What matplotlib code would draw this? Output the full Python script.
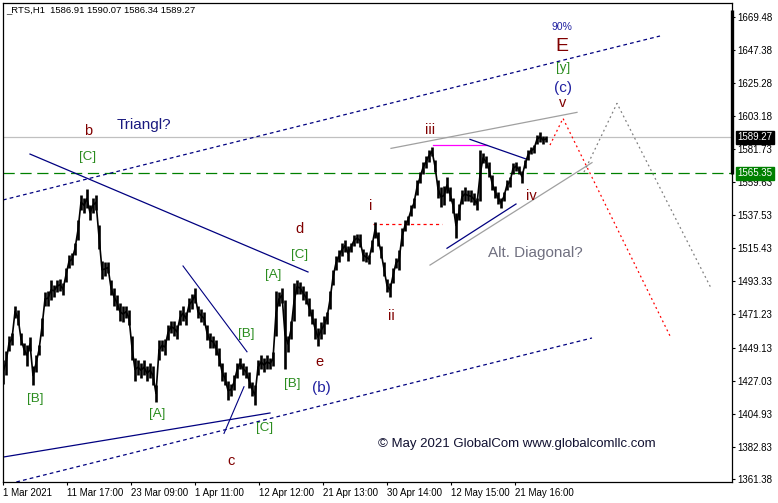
import numpy as np
import matplotlib.pyplot as plt
import matplotlib.transforms as mtransforms

plt.rcParams['font.family'] = ['Liberation Sans', 'DejaVu Sans']

# price ranges, one entry for every 3 H1 bars (1 Mar .. 25 May 2021)
bar_high = [1441, 1447, 1457, 1459, 1477, 1474, 1459, 1452, 1451, 1456,
            1437, 1444, 1451, 1469, 1486, 1487, 1494, 1491, 1494, 1495,
            1492, 1502, 1511, 1512, 1519, 1534, 1551, 1549, 1555, 1544,
            1549, 1551, 1531, 1507, 1506, 1506, 1494, 1489, 1484, 1479,
            1477, 1477, 1474, 1457, 1442, 1441, 1439, 1441, 1437, 1439,
            1437, 1424, 1454, 1454, 1455, 1464, 1467, 1467, 1464, 1474,
            1477, 1473, 1482, 1485, 1489, 1477, 1475, 1473, 1464, 1459,
            1457, 1454, 1449, 1439, 1433, 1427, 1425, 1431, 1439, 1442,
            1439, 1437, 1433, 1426, 1424, 1441, 1444, 1442, 1444, 1442,
            1446, 1487, 1486, 1489, 1481, 1457, 1467, 1492, 1494, 1493,
            1490, 1487, 1482, 1475, 1469, 1462, 1466, 1470, 1473, 1487,
            1501, 1510, 1514, 1519, 1521, 1517, 1519, 1524, 1525, 1525,
            1515, 1513, 1511, 1521, 1533, 1526, 1517, 1506, 1495, 1492,
            1502, 1509, 1514, 1529, 1534, 1537, 1544, 1549, 1561, 1566,
            1573, 1577, 1581, 1583, 1574, 1561, 1556, 1557, 1563, 1556,
            1549, 1539, 1545, 1554, 1556, 1554, 1554, 1552, 1549, 1581,
            1579, 1577, 1573, 1564, 1557, 1553, 1549, 1553, 1561, 1563,
            1572, 1573, 1570, 1567, 1574, 1581, 1583, 1584, 1591, 1593,
            1590, 1590.07]
bar_low = [1425, 1431, 1447, 1451, 1469, 1464, 1451, 1444, 1437, 1447,
           1424, 1433, 1444, 1457, 1477, 1477, 1481, 1483, 1486, 1487,
           1484, 1493, 1502, 1504, 1511, 1521, 1541, 1539, 1542, 1534,
           1539, 1541, 1515, 1495, 1497, 1499, 1484, 1477, 1474, 1467,
           1466, 1469, 1464, 1441, 1427, 1431, 1429, 1431, 1427, 1429,
           1424, 1413, 1441, 1447, 1444, 1454, 1459, 1457, 1455, 1464,
           1467, 1464, 1473, 1475, 1479, 1469, 1466, 1464, 1454, 1449,
           1449, 1444, 1437, 1427, 1424, 1414, 1417, 1421, 1429, 1435,
           1431, 1429, 1422, 1417, 1411, 1431, 1435, 1433, 1435, 1435,
           1437, 1457, 1477, 1479, 1435, 1446, 1455, 1467, 1485, 1485,
           1481, 1478, 1470, 1465, 1455, 1450, 1455, 1458, 1465, 1475,
           1491, 1501, 1506, 1510, 1513, 1507, 1513, 1517, 1519, 1516,
           1507, 1506, 1505, 1513, 1522, 1517, 1509, 1497, 1486, 1483,
           1492, 1502, 1501, 1517, 1527, 1531, 1537, 1542, 1551, 1559,
           1565, 1569, 1573, 1577, 1566, 1549, 1543, 1544, 1552, 1547,
           1539, 1522, 1534, 1545, 1547, 1547, 1546, 1544, 1541, 1547,
           1572, 1569, 1563, 1554, 1549, 1545, 1542, 1547, 1554, 1556,
           1565, 1567, 1565, 1559, 1569, 1574, 1578, 1579, 1585, 1586,
           1585, 1586.34]
bar_step = 3

last_close = 1589.27
level_price = 1565.35
header = "_RTS,H1  1586.91 1590.07 1586.34 1589.27"

price_ticks = [1669.48, 1647.38, 1625.28, 1603.18, 1581.73, 1559.63, 1537.53,
               1515.43, 1493.33, 1471.23, 1449.13, 1427.03, 1404.93, 1382.83, 1361.38]
time_tick_bars = [0, 64, 128, 192, 256, 320, 384, 448, 512]
time_labels = ["1 Mar 2021", "11 Mar 17:00", "23 Mar 09:00", "1 Apr 11:00",
               "12 Apr 12:00", "21 Apr 13:00", "30 Apr 14:00", "12 May 15:00",
               "21 May 16:00"]

# analyst drawings: (bar, price) end points
channel_top = [(0, 1547.5), (657, 1656.8)]
channel_bottom = [(0, 1357.3), (589, 1455.5)]
triangle_upper = [(27, 1578.1), (305, 1499.5)]
triangle_lower = [(0, 1376.1), (267, 1405.5)]
b_wedge_top = [(180, 1503.5), (244, 1446.3)]
c_wedge_leg = [(221, 1391.9), (241, 1423.0)]
wave_i_level = [(370, 1531.5), (439, 1531.5)]
wave_iii_level = [(430, 1584.1), (484, 1584.1)]
iv_upper = [(467, 1587.9), (524, 1574.6)]
iv_lower = [(444, 1515.3), (513, 1544.8)]
diag_upper = [(388, 1581.9), (574, 1605.9)]
diag_lower = [(427, 1504.1), (589, 1572.4)]
main_path = [(547, 1584.1), (560, 1601.9), (668, 1455.5)]
alt_path = [(581, 1566.1), (614, 1611.9), (708, 1488.8)]

maroon = '#800000'
green = '#2a8c1e'
navy = '#000080'
blue = '#2020a0'

# wave labels: text, bar, price, colour, size
labels = [
    ("b", 85, 1593.5, maroon, 10.5),
    ("[C]", 85, 1576.1, green, 9.6),
    ("Triangl?", 141, 1597.5, '#1a1a80', 11),
    ("[B]", 32, 1414.8, green, 9.6),
    ("[A]", 154, 1404.8, green, 9.6),
    ("[B]", 243, 1458.1, green, 9.6),
    ("c", 228, 1373.5, maroon, 10.5),
    ("[C]", 262, 1395.5, green, 9.6),
    ("[A]", 270, 1497.5, green, 9.6),
    ("[C]", 297, 1510.8, green, 9.6),
    ("d", 297, 1528.1, maroon, 10.5),
    ("[B]", 289, 1424.8, green, 9.6),
    ("e", 316, 1439.5, maroon, 10.5),
    ("(b)", 318, 1422.1, blue, 11),
    ("i", 368, 1543.5, maroon, 10.5),
    ("ii", 388, 1470.1, maroon, 10.5),
    ("iii", 427, 1594.1, maroon, 10.5),
    ("iv", 528, 1550.1, maroon, 10.5),
    ("v", 560, 1612.1, maroon, 10.5),
    ("(c)", 560, 1622.1, blue, 11),
    ("[y]", 560, 1635.5, green, 9.6),
    ("E", 559, 1649.5, maroon, 14),
    ("90%", 559, 1662.8, blue, 7.5),
    ("Alt. Diagonal?", 532, 1512.1, '#707080', 11),
]
copyright_text = "\u00a9 May 2021 GlobalCom www.globalcomllc.com"

fig = plt.figure(figsize=(7.78, 5.03), dpi=100)
ax = fig.add_axes([3 / 778, 21 / 503, 729 / 778, 479 / 503])
ax.set_xlim(0, 729)
ax.set_ylim(1359.5, 1678.8)

x = np.arange(len(bar_high)) * bar_step
hi = np.array(bar_high)
lo = np.array(bar_low)
ax.vlines(x, lo, hi, color='black', lw=1.9, zorder=5)
ax.plot(x, (hi + lo) / 2, color='black', lw=1.2, zorder=5)


def seg(points, **kw):
    xs, ys = zip(*points)
    ax.plot(xs, ys, **kw)


ax.axhline(last_close, color='#c0c0c0', lw=0.9, zorder=1)
ax.axhline(level_price, color='#008000', lw=0.9, ls=(0, (9, 4.5)), zorder=1)

seg(channel_top, color=navy, lw=0.9, ls=(0, (3, 2.5)))
seg(channel_bottom, color=navy, lw=0.9, ls=(0, (3, 2.5)))
seg(triangle_upper, color=navy, lw=0.9)
seg(triangle_lower, color=navy, lw=0.9)
seg(b_wedge_top, color=navy, lw=0.8)
seg(c_wedge_leg, color=navy, lw=0.8)
seg(wave_i_level, color='red', lw=0.9, ls=(0, (2.5, 2.5)))
seg(wave_iii_level, color='magenta', lw=0.9)
seg(iv_upper, color=navy, lw=0.9)
seg(iv_lower, color=navy, lw=0.9)
seg(diag_upper, color='#a0a0a0', lw=0.9)
seg(diag_lower, color='#a0a0a0', lw=0.9)
seg(main_path, color='red', lw=0.9, ls=(0, (1.5, 2.5)))
seg(alt_path, color='#808080', lw=0.9, ls=(0, (1.5, 2.5)))

for txt, bx, py, col, size in labels:
    ax.text(bx, py, txt, color=col, fontsize=size, ha='center', va='center', zorder=6)
ax.text(514, 1384.8, copyright_text, color='#101030', fontsize=9.5,
        ha='center', va='center')

# frame and scales
for sp in ax.spines.values():
    sp.set_color('black')
    sp.set_linewidth(0.9)
ax.yaxis.tick_right()
ax.set_yticks(price_ticks)
ax.set_yticklabels([f"{p:.2f}" for p in price_ticks])
ax.set_xticks(time_tick_bars)
ax.set_xticklabels(time_labels, ha='left')
ax.tick_params(axis='both', direction='out', length=2.5, width=0.8,
               labelsize=7, colors='black', pad=1.5)
ax.tick_params(axis='x', pad=2)

yt = mtransforms.blended_transform_factory(ax.transAxes, ax.transData)
ax.plot([1.0, 1.0], [1674.1, 1564.5], color='black', lw=2.4, transform=yt,
        clip_on=False, solid_capstyle='butt')
for val, box in [(last_close, 'black'), (level_price, '#008000')]:
    ax.annotate(f"{val:.2f}", xy=(1.0, val), xycoords=yt, xytext=(4, 0),
                textcoords='offset points', ha='left', va='center',
                fontsize=7, color='white',
                bbox=dict(boxstyle='square,pad=0.15', fc=box, ec=box))

fig.text(6 / 778, 1 - 10 / 503, header, fontsize=6.8, va='center', ha='left')

fig.savefig('out.png', dpi=100)
